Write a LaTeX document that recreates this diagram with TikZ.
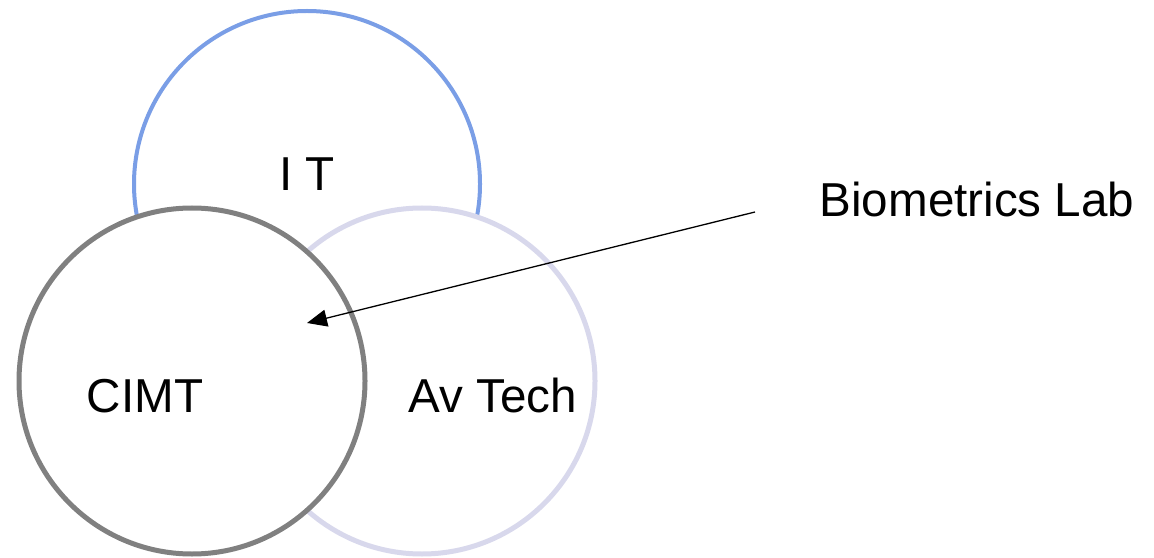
\documentclass[tikz,border=0pt]{standalone}
\usepackage{fontspec}
\setmainfont{Liberation Sans}
\usetikzlibrary{arrows.meta}
\definecolor{itblue}{RGB}{122,158,230}
\definecolor{avlav}{RGB}{216,216,236}
\definecolor{cimtgray}{RGB}{128,128,128}
\begin{document}
\begin{tikzpicture}[x=0.5pt, y=0.5pt,
    ring/.style={circle, fill=white, minimum size=173pt, inner sep=0pt},
    lbl/.style={anchor=base, font=\fontsize{23.8}{28}\selectfont}]
    \useasboundingbox (0,0) rectangle (1154,557);

    \node[ring, draw=itblue, line width=2pt](it) at (307,373) {};
    \node[ring, draw=avlav, line width=2.5pt](av) at (422,176) {};
    \node[ring, draw=cimtgray, line width=2.5pt](cimt) at (192,176) {};

    \node[lbl](itl) at (307,366) {I T};
    \node[lbl](cimtl) at (145,145) {CIMT};
    \node[lbl](avl) at (493,145) {Av Tech};
    \node[lbl](bio) at (977,340) {Biometrics Lab};

    \coordinate(from) at (755,345);
    \coordinate(to) at (307,234);
    \draw[-{Triangle[length=10pt,width=8.5pt]}, line width=0.65pt] (from) -- (to);

  \end{tikzpicture}
\end{document}
